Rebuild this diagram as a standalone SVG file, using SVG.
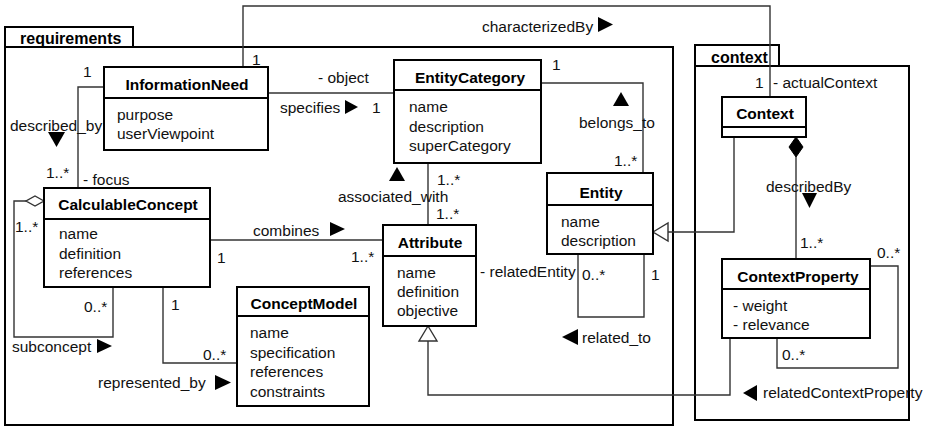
<svg xmlns="http://www.w3.org/2000/svg" width="930" height="427" viewBox="0 0 930 427">
  <style>
    .pkg { fill: none; stroke: #000; stroke-width: 2; }
    .box { fill: #fff; stroke: #000; stroke-width: 2; }
    .sep { stroke: #000; stroke-width: 2; }
    .t { font-family: "Liberation Sans", Arial, sans-serif; font-size: 15.5px; fill: #111; }
    .title { font-weight: bold; text-anchor: middle; fill: #000; }
    .ptitle { font-family: "Liberation Sans", Arial, sans-serif; font-size: 16px; font-weight: bold; fill: #000; }
    .c { fill: none; stroke: #333; stroke-width: 1.4; }
    .dir { fill: #000; }
    .gen { fill: #fff; stroke: #333; stroke-width: 1.4; }
    .agg { fill: #fff; stroke: #333; stroke-width: 1.4; }
    .comp { fill: #000; stroke: #000; stroke-width: 1; }
  </style>

  <!-- packages -->
  <g id="pkg-requirements">
    <rect class="pkg" x="5" y="27" width="128" height="20"/>
    <rect class="pkg" x="5" y="47" width="668" height="378"/>
    <text class="ptitle" x="20" y="44">requirements</text>
  </g>
  <g id="pkg-context">
    <rect class="pkg" x="695" y="45" width="84" height="21"/>
    <rect class="pkg" x="695" y="66" width="214" height="354"/>
    <text class="ptitle" x="711" y="63">context</text>
  </g>

  <!-- associations, generalizations and their labels -->
  <g id="connectors">
    <!-- characterizedBy -->
    <polyline class="c" points="243,67 243,6 770,6 770,97"/>
    <text class="t" x="252" y="65">1</text>
    <text class="t" x="482" y="32">characterizedBy</text>
    <polygon class="dir" points="598,17 598,32 613,24.5"/>
    <text class="t" x="755" y="88">1</text>
    <text class="t" x="773" y="88">- actualContext</text>

    <!-- specifies -->
    <polyline class="c" points="268,93 394,93"/>
    <text class="t" x="318" y="83">- object</text>
    <text class="t" x="280" y="113">specifies</text>
    <polygon class="dir" points="345,100 345,114 358,107"/>
    <text class="t" x="372" y="113">1</text>

    <!-- belongs_to -->
    <polyline class="c" points="541,83 643,83 643,173"/>
    <text class="t" x="552" y="70">1</text>
    <polygon class="dir" points="613,106 629,106 621,92"/>
    <text class="t" x="579" y="128">belongs_to</text>
    <text class="t" x="614" y="166">1..*</text>

    <!-- associated_with -->
    <polyline class="c" points="428,163 428,225"/>
    <text class="t" x="437" y="185">1..*</text>
    <polygon class="dir" points="389,181 405,181 397,167"/>
    <text class="t" x="338" y="202">associated_with</text>
    <text class="t" x="436" y="219">1..*</text>

    <!-- combines -->
    <polyline class="c" points="210,240 383,240"/>
    <text class="t" x="253" y="236">combines</text>
    <polygon class="dir" points="330,222 330,236 345,229"/>
    <text class="t" x="217" y="263">1</text>
    <text class="t" x="351" y="262">1..*</text>

    <!-- described_by -->
    <polyline class="c" points="104,87 78,87 78,188"/>
    <text class="t" x="83" y="77">1</text>
    <text class="t" x="10" y="131">described_by</text>
    <polygon class="dir" points="48,132 65,132 56.5,147"/>
    <text class="t" x="46" y="178">1..*</text>
    <text class="t" x="83" y="185">- focus</text>

    <!-- subconcept -->
    <polyline class="c" points="26,201 14,201 14,337 113,337 113,287"/>
    <polygon class="agg" points="44,201 35,196 26,201 35,206"/>
    <text class="t" x="15" y="232">1..*</text>
    <text class="t" x="84" y="312">0..*</text>
    <text class="t" x="12" y="352">subconcept</text>
    <polygon class="dir" points="97,339 97,353 112,346"/>

    <!-- represented_by -->
    <polyline class="c" points="163,287 163,363 237,363"/>
    <text class="t" x="171" y="310">1</text>
    <text class="t" x="203" y="360">0..*</text>
    <text class="t" x="98" y="388">represented_by</text>
    <polygon class="dir" points="215,375 215,390 231,382.5"/>

    <!-- related_to (Entity self association) -->
    <polyline class="c" points="578,254 578,317 644,317 644,254"/>
    <text class="t" x="480" y="277">- relatedEntity</text>
    <text class="t" x="582" y="280">0..*</text>
    <text class="t" x="651" y="280">1</text>
    <polygon class="dir" points="578,329 578,345 562,337"/>
    <text class="t" x="582" y="343">related_to</text>

    <!-- Context specializes Entity -->
    <polyline class="c" points="734,137 734,232 668,232"/>
    <polygon class="gen" points="653,232 668,223 668,241"/>

    <!-- ContextProperty specializes Attribute -->
    <polyline class="c" points="730,338 730,395 428,395 428,341"/>
    <polygon class="gen" points="428,326 419,341 437,341"/>

    <!-- describedBy (composition) -->
    <polyline class="c" points="796,157 796,259"/>
    <polygon class="comp" points="796,137 803,147 796,157 789,147"/>
    <text class="t" x="766" y="192">describedBy</text>
    <polygon class="dir" points="802,193 817,193 809.5,208"/>
    <text class="t" x="800" y="248">1..*</text>

    <!-- relatedContextProperty (ContextProperty self association) -->
    <polyline class="c" points="870,266 898,266 898,368 777,368 777,338"/>
    <text class="t" x="877" y="258">0..*</text>
    <text class="t" x="782" y="360">0..*</text>
    <polygon class="dir" points="757,385 757,401 743,393"/>
    <text class="t" x="763" y="398">relatedContextProperty</text>
  </g>

  <!-- classes -->
  <g id="InformationNeed">
    <rect class="box" x="104" y="67" width="164" height="83"/>
    <line class="sep" x1="104" y1="98" x2="268" y2="98"/>
    <text class="t title" x="187" y="90">InformationNeed</text>
    <text class="t" x="117" y="120">purpose</text>
    <text class="t" x="117" y="139">userViewpoint</text>
  </g>

  <g id="EntityCategory">
    <rect class="box" x="394" y="60" width="147" height="103"/>
    <line class="sep" x1="394" y1="90" x2="541" y2="90"/>
    <text class="t title" x="470" y="83">EntityCategory</text>
    <text class="t" x="409" y="112">name</text>
    <text class="t" x="409" y="132">description</text>
    <text class="t" x="409" y="151">superCategory</text>
  </g>

  <g id="Entity">
    <rect class="box" x="547" y="173" width="106" height="81"/>
    <line class="sep" x1="547" y1="205" x2="653" y2="205"/>
    <text class="t title" x="601" y="198">Entity</text>
    <text class="t" x="561" y="227">name</text>
    <text class="t" x="561" y="246">description</text>
  </g>

  <g id="Attribute">
    <rect class="box" x="383" y="225" width="93" height="101"/>
    <line class="sep" x1="383" y1="256" x2="476" y2="256"/>
    <text class="t title" x="430" y="248">Attribute</text>
    <text class="t" x="397" y="278">name</text>
    <text class="t" x="397" y="297">definition</text>
    <text class="t" x="397" y="316">objective</text>
  </g>

  <g id="CalculableConcept">
    <rect class="box" x="44" y="188" width="166" height="99"/>
    <line class="sep" x1="44" y1="219" x2="210" y2="219"/>
    <text class="t title" x="128" y="210">CalculableConcept</text>
    <text class="t" x="59" y="239">name</text>
    <text class="t" x="59" y="259">definition</text>
    <text class="t" x="59" y="278">references</text>
  </g>

  <g id="ConceptModel">
    <rect class="box" x="237" y="287" width="132" height="119"/>
    <line class="sep" x1="237" y1="316" x2="369" y2="316"/>
    <text class="t title" x="304" y="309">ConceptModel</text>
    <text class="t" x="250" y="338">name</text>
    <text class="t" x="250" y="358">specification</text>
    <text class="t" x="250" y="377">references</text>
    <text class="t" x="250" y="397">constraints</text>
  </g>

  <g id="Context">
    <rect class="box" x="722" y="97" width="84" height="40"/>
    <line class="sep" x1="722" y1="127" x2="806" y2="127"/>
    <text class="t title" x="765" y="119">Context</text>
  </g>

  <g id="ContextProperty">
    <rect class="box" x="722" y="259" width="148" height="79"/>
    <line class="sep" x1="722" y1="289" x2="870" y2="289"/>
    <text class="t title" x="798" y="282">ContextProperty</text>
    <text class="t" x="733" y="311">- weight</text>
    <text class="t" x="733" y="330">- relevance</text>
  </g>
</svg>
